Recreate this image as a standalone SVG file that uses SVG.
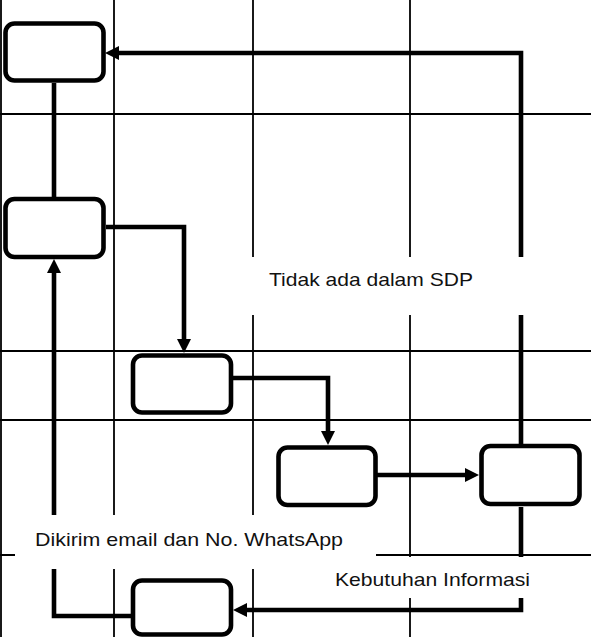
<svg xmlns="http://www.w3.org/2000/svg" width="591" height="637" viewBox="0 0 591 637">
<style>
.grid{stroke:#000;stroke-width:1.8;fill:none}
.conn{stroke:#000;stroke-width:4.6;fill:none;stroke-linejoin:miter;stroke-linecap:butt}
.box{fill:#fff;stroke:#000;stroke-width:4.6}
.bg{fill:#fff;stroke:none}
.lbl{font-family:"Liberation Sans",Arial,sans-serif;font-size:18.6px;fill:#111}
</style>
<defs>
<marker id="arr" markerUnits="userSpaceOnUse" markerWidth="14" markerHeight="14" refX="4" refY="7" orient="auto" viewBox="0 0 14 14">
<path d="M0,0 L14,7 L0,14 z" fill="#000"/>
</marker>
</defs>
<rect x="0" y="0" width="591" height="637" fill="#fff"/>
<g id="grid" class="grid">
<line x1="1" y1="0" x2="1" y2="637"/>
<line x1="114" y1="0" x2="114" y2="637"/>
<line x1="253" y1="0" x2="253" y2="637"/>
<line x1="410" y1="0" x2="410" y2="637"/>
<line x1="0" y1="114" x2="591" y2="114"/>
<line x1="0" y1="351" x2="591" y2="351"/>
<line x1="0" y1="420" x2="591" y2="420"/>
<line x1="0" y1="555" x2="591" y2="555"/>
</g>
<g id="connectors" class="conn">
<path d="M54,83 V197"/>
<path d="M521,444 V53 H115" marker-end="url(#arr)"/>
<path d="M106,227 H184 V343" marker-end="url(#arr)"/>
<path d="M233,378 H328 V435" marker-end="url(#arr)"/>
<path d="M377,475 H469" marker-end="url(#arr)"/>
<path d="M521,507 V610 H243" marker-end="url(#arr)"/>
<path d="M131,616 H54 V269" marker-end="url(#arr)"/>
</g>
<g id="label-sdp">
<rect class="bg" x="240" y="257" width="320" height="58"/>
<text class="lbl" x="269" y="286" textLength="204" lengthAdjust="spacingAndGlyphs">Tidak ada dalam SDP</text>
</g>
<g id="label-email">
<rect class="bg" x="15" y="515" width="361" height="54"/>
<text class="lbl" x="35" y="545.7" textLength="308" lengthAdjust="spacingAndGlyphs">Dikirim email dan No. WhatsApp</text>
</g>
<g id="label-info">
<rect class="bg" x="320" y="557" width="240" height="41"/>
<text class="lbl" x="335" y="585.7" textLength="195" lengthAdjust="spacingAndGlyphs">Kebutuhan Informasi</text>
</g>
<g id="node1"><rect class="box" x="5.5" y="23.5" width="98" height="57" rx="9"/></g>
<g id="node2"><rect class="box" x="5.5" y="199" width="98" height="58" rx="9"/></g>
<g id="node3"><rect class="box" x="133" y="355.5" width="98" height="57" rx="9"/></g>
<g id="node4"><rect class="box" x="278.5" y="447.5" width="97" height="57.5" rx="9"/></g>
<g id="node5"><rect class="box" x="481.5" y="446" width="98" height="58" rx="9"/></g>
<g id="node6"><rect class="box" x="133" y="580.5" width="98" height="54" rx="9"/></g>
</svg>
